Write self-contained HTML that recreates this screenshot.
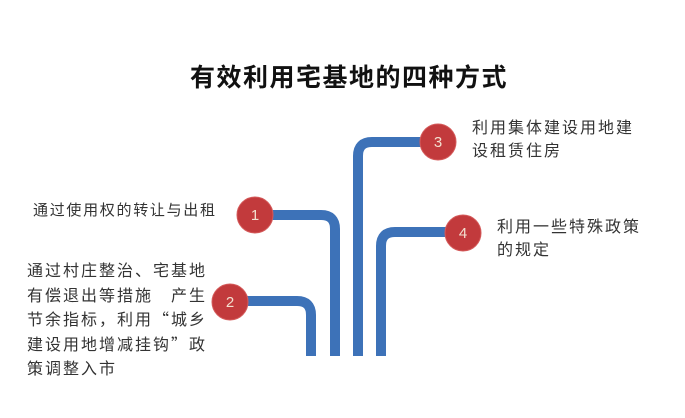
<!DOCTYPE html>
<html><head><meta charset="utf-8"><style>
body{margin:0;width:685px;height:418px;background:#fff;position:relative;overflow:hidden;font-family:"Liberation Sans","Noto Sans CJK SC",sans-serif;}
.t{position:absolute;white-space:nowrap;color:#333;font-size:16px;letter-spacing:2px;line-height:24px;}
.t div{height:24.5px;overflow:visible;}
.q{font-family:"Noto Sans CJK SC",sans-serif;line-height:0;}
</style></head><body>
<div class="t" style="left:190px;top:61px;font-size:25px;font-weight:bold;letter-spacing:1.5px;color:#111;line-height:34px;">有效利用宅基地的四种方式</div>
<svg width="685" height="418" style="position:absolute;left:0;top:0">
<g fill="none" stroke="#3d72b8" stroke-width="10">
<path d="M311 356 V315 Q311 301 297 301 H230"/>
<path d="M335 356 V229 Q335 215 321 215 H255"/>
<path d="M358 356 V156 Q358 142 372 142 H438"/>
<path d="M381 356 V246 Q381 232 395 232 H463"/>
</g>
<g fill="#c23a3c" stroke="#d45a5a" stroke-width="1">
<circle cx="255" cy="215" r="18"/><circle cx="230" cy="302" r="18"/>
<circle cx="438" cy="142" r="18"/><circle cx="463" cy="233" r="18"/>
</g>
<g fill="#f3e0d0" font-size="15" font-family="Liberation Sans" text-anchor="middle">
<text x="255" y="220">1</text><text x="230" y="307">2</text>
<text x="438" y="147">3</text><text x="463" y="238">4</text>
</g>
</svg>
<div class="t" style="left:33px;top:199px;font-size:15px;letter-spacing:1.7px;">通过使用权的转让与出租</div>
<div class="t" style="left:27px;top:260px;"><div>通过村庄整治、宅基地</div><div>有偿退出等措施　产生</div><div>节余指标，利用<span class="q">“</span>城乡</div><div>建设用地增减挂钩<span class="q">”</span>政</div><div>策调整入市</div></div>
<div class="t" style="left:472px;top:117px;line-height:23px;">利用集体建设用地建<br>设租赁住房</div>
<div class="t" style="left:497px;top:216px;line-height:23px;">利用一些特殊政策<br>的规定</div>
</body></html>
